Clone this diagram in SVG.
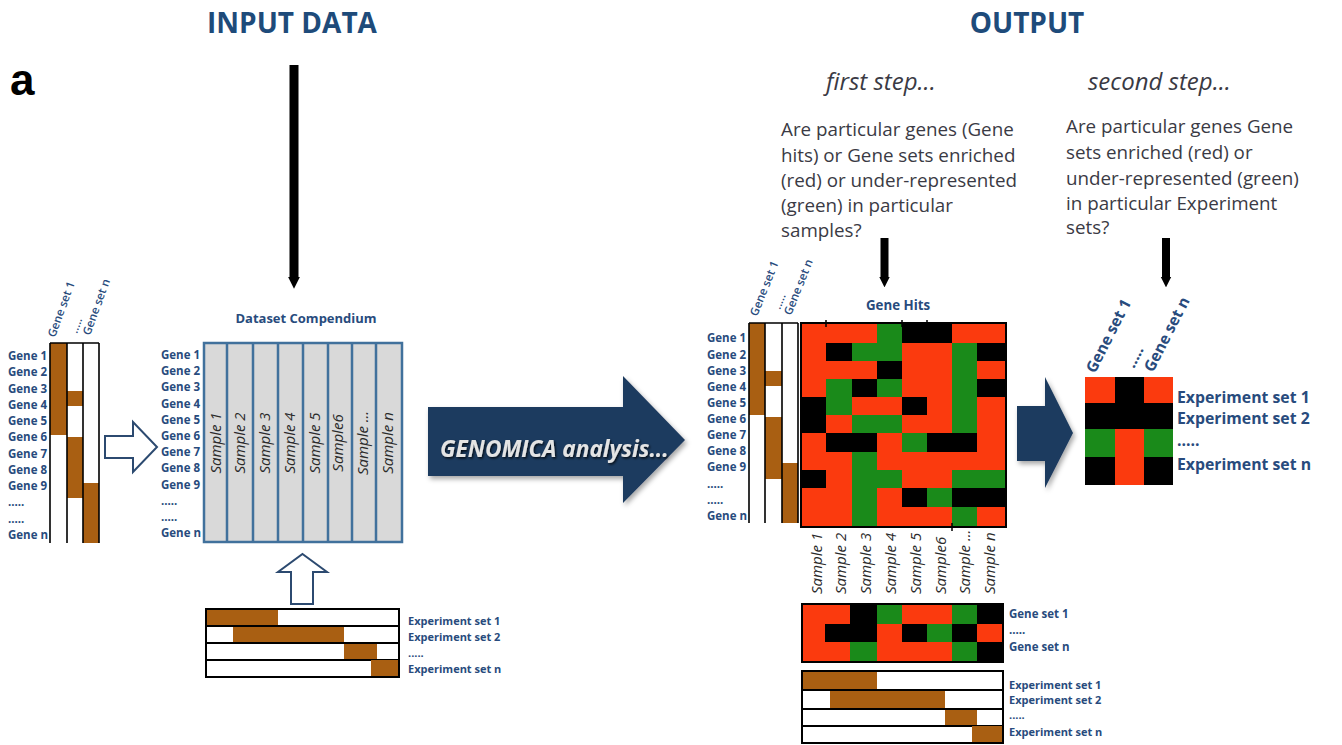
<svg xmlns="http://www.w3.org/2000/svg" width="1342" height="745" viewBox="0 0 1342 745">
<style>
.t{font-family:'Open Sans','Liberation Sans',sans-serif}
.ttl{font-family:'Open Sans','Liberation Sans',sans-serif;font-weight:700;font-size:28px;fill:#1e4b7a}
.g{font-family:'Open Sans','Liberation Sans',sans-serif;font-weight:700;font-size:11.5px;fill:#284b7d}
.e{font-family:'Open Sans','Liberation Sans',sans-serif;font-weight:700;font-size:11px;fill:#284b7d}
.eb{font-family:'Open Sans','Liberation Sans',sans-serif;font-weight:700;font-size:15.8px;fill:#284b7d}
.gs{font-family:'Open Sans','Liberation Sans',sans-serif;font-weight:600;font-size:11.5px;fill:#284b7d}
.gsb{font-family:'Open Sans','Liberation Sans',sans-serif;font-weight:700;font-size:15.5px;fill:#284b7d}
.smp{font-family:'Open Sans','Liberation Sans',sans-serif;font-style:italic;font-size:15px;fill:#2a2a2a}
.para{font-family:'Open Sans','Liberation Sans',sans-serif;font-size:18.8px;fill:#3a3a44}
.step{font-family:'Open Sans','Liberation Sans',sans-serif;font-style:italic;font-size:24px;fill:#3a3a44}
.br{fill:#a95f12}
.rd{fill:#fb3a0e}
.gn{fill:#1a8a1a}
.bk{fill:#000}
.wt{fill:#fff}
.frame{fill:none;stroke:#000;stroke-width:1.6}
.frame2{fill:none;stroke:#000;stroke-width:2}
.row{fill:#fff;stroke:#000;stroke-width:2}
.hollow{fill:#fff;stroke:#2c4a70;stroke-width:2;stroke-linejoin:miter}
.navy{fill:#1e3a5e}
.conn{stroke:#000;fill:none}
</style>
<defs>
<marker id="ah" viewBox="0 0 10 10" refX="0" refY="5" markerWidth="1.3" markerHeight="2.1" orient="auto" markerUnits="strokeWidth">
<path d="M0,0 L10,5 L0,10 z" fill="#000"/>
</marker>
<filter id="shadow" x="-10%" y="-10%" width="130%" height="130%">
<feDropShadow dx="2" dy="3" stdDeviation="2.5" flood-color="#000" flood-opacity="0.35"/>
</filter>
<filter id="tshadow" x="-5%" y="-20%" width="110%" height="150%">
<feDropShadow dx="1.2" dy="1.5" stdDeviation="0.8" flood-color="#000" flood-opacity="0.8"/>
</filter>
</defs>
<rect width="1342" height="745" fill="#fff"/>

<g id="title-input"><text class="ttl" x="292" y="33" text-anchor="middle">INPUT DATA</text></g>
<g id="title-output"><text class="ttl" x="1027" y="33" text-anchor="middle">OUTPUT</text></g>
<g id="panel-label"><text x="10" y="95" font-family="'Liberation Sans',Arial,sans-serif" font-weight="700" font-size="44" fill="#000">a</text></g>

<!-- Left gene set matrix -->
<g id="gene-set-matrix-input">
<rect x="50" y="343" width="49" height="200" class="wt"/>
<rect x="50" y="343" width="17" height="92" class="br"/>
<rect x="67" y="391" width="16" height="15" class="br"/>
<rect x="67" y="437" width="16" height="61" class="br"/>
<rect x="83" y="483" width="16" height="60" class="br"/>
<path d="M50,343 V543 M67,343 V543 M83,343 V543 M99,343 V543 M50,343 H99" class="frame"/>
<g class="g">
<text x="8" y="360">Gene 1</text><text x="8" y="376.2">Gene 2</text><text x="8" y="392.5">Gene 3</text><text x="8" y="408.7">Gene 4</text>
<text x="8" y="425">Gene 5</text><text x="8" y="441.2">Gene 6</text><text x="8" y="457.5">Gene 7</text><text x="8" y="473.7">Gene 8</text>
<text x="8" y="490">Gene 9</text><text x="8" y="506.2">.....</text><text x="8" y="522.5">.....</text><text x="8" y="538.7">Gene n</text>
</g>
<text class="gs" transform="translate(55,338) rotate(-70)">Gene set 1</text>
<text class="gs" transform="translate(77,334) rotate(-70)">.....</text>
<text class="gs" transform="translate(90,336) rotate(-70)">Gene set n</text>
</g>

<!-- Dataset compendium -->
<g id="dataset-compendium">
<text class="t" x="306" y="323" text-anchor="middle" font-weight="700" font-size="13" fill="#284b7d">Dataset Compendium</text>
<rect x="204" y="343" width="198" height="199" fill="#d9d9d9" stroke="#41719c" stroke-width="2.5"/>
<path d="M227,343 V542 M253,343 V542 M278,343 V542 M303,343 V542 M328,343 V542 M352,343 V542 M376,343 V542" stroke="#41719c" stroke-width="2.5"/>
<g class="smp" text-anchor="middle">
<text transform="translate(220.5,443) rotate(-90)">Sample 1</text>
<text transform="translate(244.5,443) rotate(-90)">Sample 2</text>
<text transform="translate(269.5,443) rotate(-90)">Sample 3</text>
<text transform="translate(294.5,443) rotate(-90)">Sample 4</text>
<text transform="translate(319.5,443) rotate(-90)">Sample 5</text>
<text transform="translate(343,443) rotate(-90)">Sample6</text>
<text transform="translate(368,443) rotate(-90)">Sample ...</text>
<text transform="translate(393,443) rotate(-90)">Sample n</text>
</g>
<g class="g">
<text x="161" y="359">Gene 1</text><text x="161" y="375.2">Gene 2</text><text x="161" y="391.4">Gene 3</text><text x="161" y="407.6">Gene 4</text>
<text x="161" y="423.8">Gene 5</text><text x="161" y="440">Gene 6</text><text x="161" y="456.2">Gene 7</text><text x="161" y="472.4">Gene 8</text>
<text x="161" y="488.6">Gene 9</text><text x="161" y="504.8">.....</text><text x="161" y="521">.....</text><text x="161" y="537.2">Gene n</text>
</g>
</g>

<!-- hollow arrows -->
<g id="hollow-arrow-right"><path class="hollow" d="M105,436 H133 V422 L157,447 L133,472 V458 H105 Z"/></g>
<g id="hollow-arrow-up"><path class="hollow" d="M302.5,554 L327,572 H313 V604 H291 V572 H278 Z"/></g>

<!-- Experiment sets input -->
<g id="experiment-sets-input">
<rect x="206" y="609" width="193" height="17" class="row"/>
<rect x="206" y="609" width="72" height="17" class="br"/>
<rect x="206" y="626" width="193" height="17" class="row"/>
<rect x="233" y="626" width="111" height="17" class="br"/>
<rect x="206" y="643" width="193" height="17" class="row"/>
<rect x="344" y="643" width="33" height="17" class="br"/>
<rect x="206" y="660" width="193" height="17" class="row"/>
<rect x="371" y="660" width="28" height="17" class="br"/>
<path d="M206,609 H399 V677 H206 Z M206,626 H399 M206,643 H399 M206,660 H371" class="frame2"/>
<g class="e">
<text x="408" y="625">Experiment set 1</text><text x="408" y="641">Experiment set 2</text>
<text x="408" y="657">.....</text><text x="408" y="673">Experiment set n</text>
</g>
</g>

<!-- GENOMICA arrow -->
<g id="genomica-analysis">
<path class="navy" filter="url(#shadow)" d="M428,407 H623 V376 L685,440 L623,503 V476 H428 Z"/>
<text class="t" x="440" y="457" font-weight="700" font-style="italic" font-size="22.6" fill="#e4e4e4" filter="url(#tshadow)">GENOMICA analysis...</text>
</g>

<!-- Step texts -->
<g id="first-step">
<text class="step" x="826" y="90">first step...</text>
<g class="para">
<text x="781" y="136">Are particular genes (Gene</text>
<text x="781" y="161.5">hits) or Gene sets enriched</text>
<text x="781" y="187">(red) or under-represented</text>
<text x="781" y="212">(green) in particular</text>
<text x="781" y="237">samples?</text>
</g>
</g>
<g id="second-step">
<text class="step" x="1088" y="90">second step...</text>
<g class="para">
<text x="1066" y="133">Are particular genes Gene</text>
<text x="1066" y="159">sets enriched (red) or</text>
<text x="1066" y="185">under-represented (green)</text>
<text x="1066" y="210">in particular Experiment</text>
<text x="1066" y="234">sets?</text>
</g>
</g>

<!-- Gene hits gene set matrix -->
<g id="gene-set-matrix-output">
<rect x="749" y="323" width="49" height="200" class="wt"/>
<rect x="749" y="323" width="16" height="92" class="br"/>
<rect x="765" y="371" width="17" height="15" class="br"/>
<rect x="765" y="417" width="17" height="62" class="br"/>
<rect x="782" y="463" width="16" height="60" class="br"/>
<path d="M749,323 V523 M765,323 V523 M782,323 V523 M798,323 V523 M749,323 H798" class="frame"/>
<text class="gs" transform="translate(757,317) rotate(-68)">Gene set 1</text>
<text class="gs" transform="translate(780,310) rotate(-68)">.....</text>
<text class="gs" transform="translate(791,316) rotate(-68)">Gene set n</text>
<g class="g">
<text x="707" y="342.4">Gene 1</text><text x="707" y="358.5">Gene 2</text><text x="707" y="374.7">Gene 3</text><text x="707" y="390.8">Gene 4</text>
<text x="707" y="406.9">Gene 5</text><text x="707" y="423">Gene 6</text><text x="707" y="439.2">Gene 7</text><text x="707" y="455.3">Gene 8</text>
<text x="707" y="471.4">Gene 9</text><text x="707" y="487.5">.....</text><text x="707" y="503.7">.....</text><text x="707" y="519.8">Gene n</text>
</g>
</g>

<!-- Gene hits -->
<g id="gene-hits">
<text class="t" x="898" y="310" text-anchor="middle" font-weight="700" font-size="13.3" fill="#284b7d">Gene Hits</text>
<rect x="801" y="323" width="205" height="204" class="bk"/>
<rect class="rd" x="801" y="323" width="25" height="74"/>
<rect class="rd" x="801" y="433" width="25" height="37"/>
<rect class="rd" x="801" y="488" width="25" height="39"/>
<rect class="rd" x="826" y="323" width="26" height="20"/>
<rect class="rd" x="826" y="361" width="26" height="18"/>
<rect class="gn" x="826" y="379" width="26" height="36"/>
<rect class="rd" x="826" y="415" width="26" height="18"/>
<rect class="rd" x="826" y="452" width="26" height="75"/>
<rect class="rd" x="852" y="323" width="25" height="20"/>
<rect class="gn" x="852" y="343" width="25" height="18"/>
<rect class="rd" x="852" y="361" width="25" height="18"/>
<rect class="rd" x="852" y="397" width="25" height="18"/>
<rect class="gn" x="852" y="415" width="25" height="18"/>
<rect class="gn" x="852" y="452" width="25" height="75"/>
<rect class="gn" x="877" y="323" width="25" height="38"/>
<rect class="gn" x="877" y="379" width="25" height="18"/>
<rect class="rd" x="877" y="397" width="25" height="18"/>
<rect class="gn" x="877" y="415" width="25" height="18"/>
<rect class="rd" x="877" y="433" width="25" height="37"/>
<rect class="gn" x="877" y="470" width="25" height="18"/>
<rect class="rd" x="877" y="488" width="25" height="39"/>
<rect class="rd" x="902" y="343" width="25" height="54"/>
<rect class="rd" x="902" y="415" width="25" height="18"/>
<rect class="gn" x="902" y="433" width="25" height="19"/>
<rect class="rd" x="902" y="452" width="25" height="36"/>
<rect class="rd" x="902" y="507" width="25" height="20"/>
<rect class="rd" x="927" y="343" width="25" height="90"/>
<rect class="rd" x="927" y="452" width="25" height="36"/>
<rect class="gn" x="927" y="488" width="25" height="19"/>
<rect class="rd" x="927" y="507" width="25" height="20"/>
<rect class="rd" x="952" y="323" width="25" height="20"/>
<rect class="gn" x="952" y="343" width="25" height="90"/>
<rect class="rd" x="952" y="452" width="25" height="18"/>
<rect class="gn" x="952" y="470" width="25" height="18"/>
<rect class="gn" x="952" y="507" width="25" height="20"/>
<rect class="rd" x="977" y="323" width="29" height="20"/>
<rect class="rd" x="977" y="361" width="29" height="18"/>
<rect class="rd" x="977" y="397" width="29" height="73"/>
<rect class="gn" x="977" y="470" width="29" height="18"/>
<rect class="rd" x="977" y="507" width="29" height="20"/>
<rect x="801" y="323" width="205" height="204" class="frame2"/>
<path d="M826,320 V327 M902,320 V327 M927,320 V327 M952,523 V531" stroke="#000" stroke-width="1.5"/>
</g>

<!-- Sample labels -->
<g id="sample-labels" class="smp">
<text transform="translate(822,594) rotate(-90)">Sample 1</text>
<text transform="translate(846,594) rotate(-90)">Sample 2</text>
<text transform="translate(871,594) rotate(-90)">Sample 3</text>
<text transform="translate(896,594) rotate(-90)">Sample 4</text>
<text transform="translate(921,594) rotate(-90)">Sample 5</text>
<text transform="translate(946,594) rotate(-90)">Sample6</text>
<text transform="translate(969.5,594) rotate(-90)">Sample ...</text>
<text transform="translate(994.5,594) rotate(-90)">Sample n</text>
</g>

<!-- Gene set results -->
<g id="gene-set-results">
<rect x="802" y="604" width="201" height="58" class="bk"/>
<rect class="rd" x="802" y="604" width="23" height="58"/>
<rect class="rd" x="825" y="604" width="25" height="20"/>
<rect class="rd" x="825" y="642" width="25" height="20"/>
<rect class="gn" x="850" y="642" width="27" height="20"/>
<rect class="gn" x="877" y="604" width="25" height="20"/>
<rect class="rd" x="877" y="624" width="25" height="38"/>
<rect class="rd" x="902" y="604" width="25" height="20"/>
<rect class="rd" x="902" y="642" width="25" height="20"/>
<rect class="rd" x="927" y="604" width="25" height="20"/>
<rect class="gn" x="927" y="624" width="25" height="18"/>
<rect class="rd" x="927" y="642" width="25" height="20"/>
<rect class="gn" x="952" y="604" width="25" height="20"/>
<rect class="gn" x="952" y="642" width="25" height="20"/>
<rect class="rd" x="977" y="624" width="26" height="18"/>
<rect x="802" y="604" width="201" height="58" class="frame2"/>
<g class="g">
<text x="1009" y="618">Gene set 1</text><text x="1009" y="634">.....</text><text x="1009" y="651">Gene set n</text>
</g>
</g>

<!-- Experiment sets output -->
<g id="experiment-sets-output">
<rect x="802" y="671" width="201" height="19" class="row"/>
<rect x="802" y="671" width="75" height="19" class="br"/>
<rect x="802" y="690" width="201" height="19" class="row"/>
<rect x="830" y="690" width="115" height="19" class="br"/>
<rect x="802" y="709" width="201" height="17" class="row"/>
<rect x="945" y="709" width="32" height="17" class="br"/>
<rect x="802" y="726" width="201" height="17" class="row"/>
<rect x="972" y="726" width="31" height="17" class="br"/>
<path d="M802,671 H1003 V743 H802 Z M802,690 H1003 M802,709 H1003 M802,726 H972" class="frame2"/>
<g class="e">
<text x="1009" y="689">Experiment set 1</text><text x="1009" y="704">Experiment set 2</text>
<text x="1009" y="719">.....</text><text x="1009" y="736">Experiment set n</text>
</g>
</g>

<!-- second navy arrow -->
<g id="result-arrow"><path class="navy" filter="url(#shadow)" d="M1017,406 H1045 V377 L1073,433 L1045,488 V461 H1017 Z"/></g>

<!-- Final matrix -->
<g id="experiment-set-matrix">
<rect x="1085" y="377" width="88" height="108" class="bk"/>
<rect class="rd" x="1085" y="377" width="30" height="26"/>
<rect class="rd" x="1144" y="377" width="29" height="26"/>
<rect class="gn" x="1085" y="429" width="30" height="28"/>
<rect class="rd" x="1115" y="429" width="29" height="28"/>
<rect class="gn" x="1144" y="429" width="29" height="28"/>
<rect class="rd" x="1115" y="457" width="29" height="28"/>
<text class="gsb" transform="translate(1095,374) rotate(-63)">Gene set 1</text>
<text class="gsb" transform="translate(1134,369) rotate(-63)">.....</text>
<text class="gsb" transform="translate(1153,373) rotate(-63)">Gene set n</text>
<g class="eb">
<text x="1177" y="403">Experiment set 1</text><text x="1177" y="424">Experiment set 2</text>
<text x="1177" y="446">.....</text><text x="1177" y="470">Experiment set n</text>
</g>
</g>

<!-- connectors -->
<g id="connectors" class="conn">
<line x1="294" y1="65" x2="294" y2="277" stroke-width="9" marker-end="url(#ah)"/>
<line x1="884.5" y1="238" x2="884.5" y2="277" stroke-width="8" marker-end="url(#ah)"/>
<line x1="1166" y1="238" x2="1166" y2="277" stroke-width="8" marker-end="url(#ah)"/>
</g>
</svg>
